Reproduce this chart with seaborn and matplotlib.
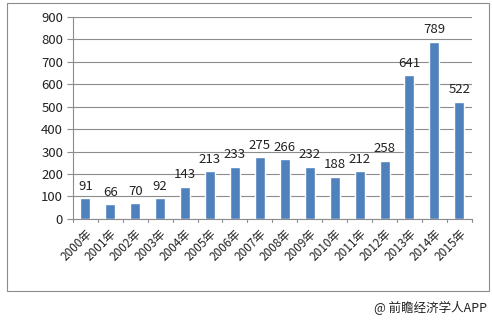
import matplotlib
matplotlib.use("Agg")
import matplotlib.pyplot as plt
import seaborn as sns
import pandas as pd
from matplotlib.patches import Rectangle

years = ["2000年", "2001年", "2002年", "2003年", "2004年", "2005年", "2006年", "2007年",
         "2008年", "2009年", "2010年", "2011年", "2012年", "2013年", "2014年", "2015年"]
values = [91, 66, 70, 92, 143, 213, 233, 275, 266, 232, 188, 212, 258, 641, 789, 522]
yticks = [0, 100, 200, 300, 400, 500, 600, 700, 800, 900]

df = pd.DataFrame({"year": years, "value": values})

sns.set_style("white")
plt.rcParams['font.family'] = ['Noto Sans CJK SC', 'DejaVu Sans']

fig = plt.figure(figsize=(4.92, 3.2), dpi=100)
ax = fig.add_axes([0.148, 0.316, 0.811, 0.631])

sns.barplot(data=df, x="year", y="value", color="#4F81BD", width=0.4,
            saturation=1, ax=ax, zorder=3)

ax.set_ylim(0, 900)
ax.set_yticks(yticks)
ax.set_xlim(-0.5, len(years) - 0.5)
ax.yaxis.grid(True, color="#8c8c8c", linewidth=0.8, zorder=0)
ax.set_axisbelow(True)
ax.set_xlabel("")
ax.set_ylabel("")

for s in ["top", "right"]:
    ax.spines[s].set_visible(False)
for s in ["left", "bottom"]:
    ax.spines[s].set_color("#8c8c8c")
    ax.spines[s].set_linewidth(0.8)

ax.tick_params(axis="y", length=4, color="#8c8c8c", labelsize=9, pad=3, left=True)
ax.set_yticklabels([str(t) for t in yticks], fontsize=9.5, color="#222222")

# x ticks between categories
ax.set_xticks(range(len(years)))
ax.set_xticklabels(years, rotation=45, ha="right", rotation_mode="anchor",
                   fontsize=8.5, color="#222222")
ax.tick_params(axis="x", length=0, pad=6)
for i in range(len(years) + 1):
    ax.plot([i - 0.5, i - 0.5], [0, -12], color="#8c8c8c", linewidth=0.8,
            clip_on=False, zorder=4)

for c in ax.containers:
    ax.bar_label(c, labels=[str(v) for v in values], padding=4, fontsize=9.5,
                 color="#222222")

fig.add_artist(Rectangle((7 / 492, 1 - 291 / 320), 482 / 492, 288 / 320,
                         transform=fig.transFigure, fill=False,
                         edgecolor="#8c8c8c", linewidth=0.8))
fig.text(487 / 492, 1 - 308 / 320, "@ 前瞻经济学人APP", ha="right", va="center",
         fontsize=9, color="#222222")

fig.savefig("out.png", dpi=100)
